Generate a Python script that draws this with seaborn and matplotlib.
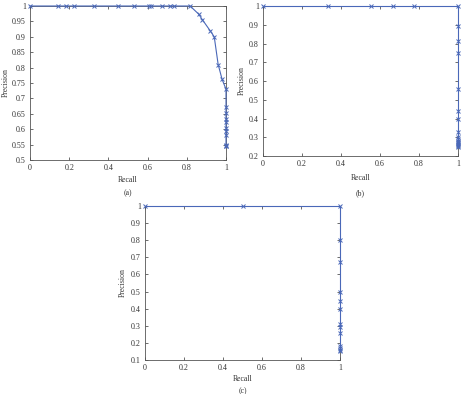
import matplotlib
matplotlib.use("Agg")
import matplotlib.pyplot as plt
import seaborn as sns
import pandas as pd

sns.set_theme(style="white")
plt.rcParams['font.family'] = ['Liberation Serif', 'DejaVu Serif']

# Panel (a)
recall_a = [0.0, 0.143, 0.184, 0.225, 0.328, 0.449, 0.531, 0.606, 0.616, 0.674, 0.712, 0.734, 0.817,
            0.86, 0.88, 0.92, 0.94, 0.96, 0.98, 1.0,
            1.0, 1.0, 1.0, 1.0, 1.0, 1.0, 1.0, 1.0, 1.0, 1.0]
precision_a = [1.0, 1.0, 1.0, 1.0, 1.0, 1.0, 1.0, 1.0, 1.0, 1.0, 1.0, 1.0, 1.0,
               0.974, 0.955, 0.919, 0.90, 0.81, 0.762, 0.73,
               0.671, 0.652, 0.633, 0.622, 0.603, 0.595, 0.582, 0.549, 0.545, 0.545]

# Panel (b)
recall_b = [0.0, 0.332, 0.554, 0.667, 0.774, 1.0,
            1.0, 1.0, 1.0, 1.0, 1.0, 1.0, 1.0, 1.0, 1.0, 1.0, 1.0, 1.0, 1.0, 1.0, 1.0, 1.0]
precision_b = [1.0, 1.0, 1.0, 1.0, 1.0, 1.0,
               0.895, 0.812, 0.75, 0.56, 0.44, 0.40, 0.33, 0.30, 0.29, 0.28, 0.275, 0.27,
               0.265, 0.26, 0.255, 0.25]

# Panel (c)
recall_c = [0.0, 0.5, 1.0, 1.0, 1.0, 1.0, 1.0, 1.0, 1.0, 1.0, 1.0, 1.0, 1.0, 1.0, 1.0]
precision_c = [1.0, 1.0, 1.0, 0.80, 0.67, 0.50, 0.447, 0.40, 0.31, 0.29, 0.26,
               0.18, 0.17, 0.16, 0.15]

yticks_a = [0.5, 0.55, 0.6, 0.65, 0.7, 0.75, 0.8, 0.85, 0.9, 0.95, 1.0]
ytick_labels_a = ["0.5", "0.55", "0.6", "0.65", "0.7", "0.75", "0.8", "0.85", "0.9", "0.95", "1"]
yticks_b = [0.2, 0.3, 0.4, 0.5, 0.6, 0.7, 0.8, 0.9, 1.0]
ytick_labels_b = ["0.2", "0.3", "0.4", "0.5", "0.6", "0.7", "0.8", "0.9", "1"]
yticks_c = [0.1, 0.2, 0.3, 0.4, 0.5, 0.6, 0.7, 0.8, 0.9, 1.0]
ytick_labels_c = ["0.1", "0.2", "0.3", "0.4", "0.5", "0.6", "0.7", "0.8", "0.9", "1"]
xticks = [0, 0.2, 0.4, 0.6, 0.8, 1.0]
xtick_labels = ["0", "0.2", "0.4", "0.6", "0.8", "1"]

W, H = 462, 394
fig = plt.figure(figsize=(W / 100, H / 100), dpi=100)

def ax_at(l, t, r, b):
    return fig.add_axes([l / W, 1 - b / H, (r - l) / W, (b - t) / H])

# (axes, x, y, ylim, yticks, labels, tag, ylabel_x, xlabel_y, tag_y)
panels = [
    (ax_at(30, 6, 226, 160), recall_a, precision_a, (0.5, 1.0), yticks_a, ytick_labels_a,
     "(a)", -0.125, -0.13, -0.214),
    (ax_at(263, 6, 458, 156), recall_b, precision_b, (0.2, 1.0), yticks_b, ytick_labels_b,
     "(b)", -0.108, -0.147, -0.247),
    (ax_at(145, 206, 340, 360), recall_c, precision_c, (0.1, 1.0), yticks_c, ytick_labels_c,
     "(c)", -0.114, -0.123, -0.2),
]

color = "#4a68b8"
tfs = 5.8
lfs = 5.6
for ax, rx, py, ylim, yt, ytl, tag, ylx, xly, tgy in panels:
    df = pd.DataFrame({"Recall": rx, "Precision": py})
    sns.lineplot(data=df, x="Recall", y="Precision", sort=False, estimator=None,
                 marker="x", markersize=3, markeredgewidth=0.7, markeredgecolor=color,
                 color=color, linewidth=0.8, ax=ax, clip_on=False, zorder=3)
    ax.set_xlim(0, 1)
    ax.set_ylim(*ylim)
    ax.set_xticks(xticks)
    ax.set_xticklabels(xtick_labels)
    ax.set_yticks(yt)
    ax.set_yticklabels(ytl)
    ax.tick_params(direction="in", length=2, width=0.5, labelsize=tfs, colors="#333333",
                   top=True, right=True, bottom=True, left=True, pad=3)
    for s in ax.spines.values():
        s.set_visible(True)
        s.set_color("#555555")
        s.set_linewidth(0.6)
    ax.set_xlabel("Recall", fontsize=lfs, color="#333333")
    ax.set_ylabel("Precision", fontsize=lfs, color="#333333")
    ax.yaxis.set_label_coords(ylx, 0.5)
    ax.xaxis.set_label_coords(0.5, xly)
    ax.xaxis.label.set_va("center")
    ax.yaxis.label.set_va("center")
    ax.text(0.5, tgy, tag, transform=ax.transAxes, ha="center", va="center",
            fontsize=lfs, color="#333333")

fig.savefig("out.png", dpi=100)
